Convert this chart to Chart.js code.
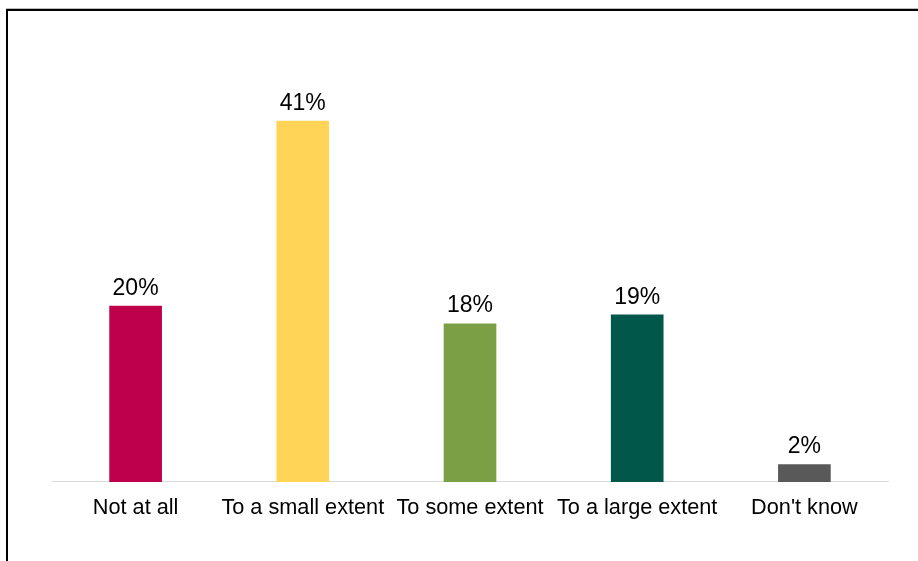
<!DOCTYPE html>
<html>
<head>
<meta charset="utf-8">
<script src="https://cdn.jsdelivr.net/npm/chart.js@4/dist/chart.umd.min.js"></script>
<style>
  html, body { margin: 0; padding: 0; background: #fff; overflow: hidden; }
  #wrap { position: relative; width: 918px; height: 561px; }
  #frame {
    position: absolute; left: 6px; top: 9px; width: 1000px; height: 700px;
    border-left: 2px solid #000; border-top: 2px solid #000;
    box-shadow: 0 -1px 0 #bbb;
  }
  canvas { position: absolute; left: 0; top: 0; }
</style>
</head>
<body>
<div id="wrap">
  <div id="frame"></div>
  <canvas id="chart" width="918" height="561"></canvas>
</div>
<script>
var categories = ['Not at all', 'To a small extent', 'To some extent', 'To a large extent', "Don't know"];
var values = [20, 41, 18, 19, 2];
var barColors = ['#BE004C', '#FFD457', '#7B9F45', '#00574A', '#595959'];

var FONT = '"Liberation Sans", Arial, sans-serif';

// draws the % label above each bar
var valueLabels = {
  id: 'valueLabels',
  afterDatasetsDraw: function(chart) {
    var ctx = chart.ctx;
    var meta = chart.getDatasetMeta(0);
    ctx.save();
    ctx.font = '23px ' + FONT;
    ctx.fillStyle = '#000';
    ctx.textAlign = 'center';
    ctx.textBaseline = 'alphabetic';
    meta.data.forEach(function(bar, i) {
      ctx.fillText(values[i] + '%', bar.x, bar.y - 11);
    });
    ctx.restore();
  }
};

new Chart(document.getElementById('chart').getContext('2d'), {
  type: 'bar',
  data: {
    labels: categories,
    datasets: [{
      data: values,
      backgroundColor: barColors,
      barPercentage: 0.315,
      categoryPercentage: 1
    }]
  },
  options: {
    responsive: false,
    animation: false,
    layout: { padding: { left: 52, right: 30, top: 41.5, bottom: 35 } },
    plugins: { legend: { display: false }, tooltip: { enabled: false } },
    scales: {
      y: { display: false, min: 0, max: 50 },
      x: {
        grid: { display: false },
        border: { display: true, color: '#d9d9d9', width: 1 },
        ticks: { color: '#000', padding: 5, maxRotation: 0, autoSkip: false, font: { family: FONT, size: 21.7 } }
      }
    }
  },
  plugins: [valueLabels]
});
</script>
</body>
</html>
